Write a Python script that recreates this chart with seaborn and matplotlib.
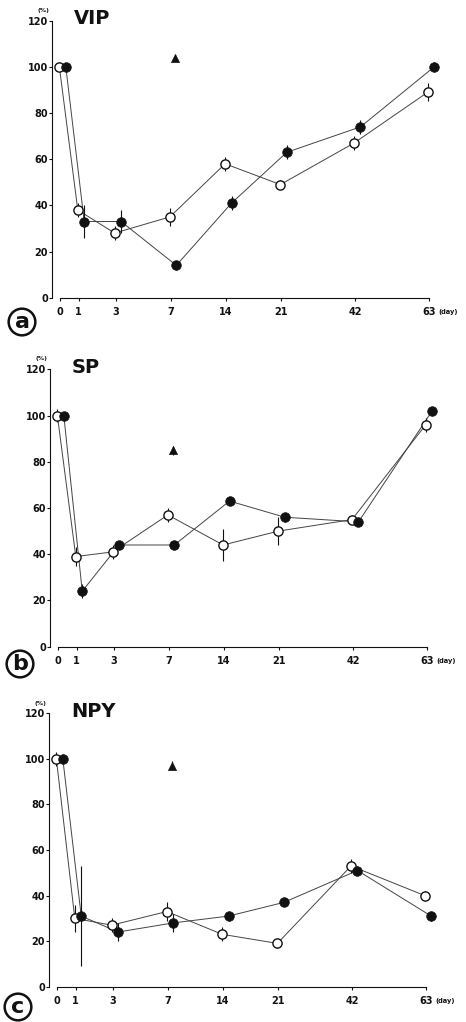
import matplotlib
matplotlib.use("Agg")
import matplotlib.pyplot as plt
import seaborn as sns
import pandas as pd

# ---------------- data ----------------
days = [0, 1, 3, 7, 14, 21, 42, 63]
day_labels = ["0", "1", "3", "7", "14", "21", "42", "63"]
y_ticks = [0, 20, 40, 60, 80, 100, 120]
panel_titles = ["VIP", "SP", "NPY"]
panel_letters = ["a", "b", "c"]

vip_open = [100, 38, 28, 35, 58, 49, 67, 89]
vip_open_err = [2, 3, 3, 4, 3, 2, 3, 4]
vip_filled = [100, 33, 33, 14, 41, 63, 74, 100]
vip_filled_err = [1, 7, 5, 2, 3, 3, 3, 2]
vip_tri = 104
vip_tri_err = 1

sp_open = [100, 39, 41, 57, 44, 50, 55, 96]
sp_open_err = [3, 4, 3, 3, 7, 6, 2, 3]
sp_filled = [100, 24, 44, 44, 63, 56, 54, 102]
sp_filled_err = [1, 3, 1, 1, 1, 2, 1, 1]
sp_tri = 85
sp_tri_err = 2

npy_open = [100, 30, 27, 33, 23, 19, 53, 40]
npy_open_err = [3, 6, 3, 4, 3, 2, 3, 2]
npy_filled = [100, 31, 24, 28, 31, 37, 51, 31]
npy_filled_err = [2, 22, 4, 4, 2, 1, 2, 2]
npy_tri = 97
npy_tri_err = 2

# compressed time-axis scale: day -> axis position
day_axis = {0: 0, 1: 1, 3: 3, 7: 6, 14: 9, 21: 12, 42: 16, 63: 20}

panels = [
    (vip_open, vip_open_err, vip_filled, vip_filled_err, vip_tri, vip_tri_err),
    (sp_open, sp_open_err, sp_filled, sp_filled_err, sp_tri, sp_tri_err),
    (npy_open, npy_open_err, npy_filled, npy_filled_err, npy_tri, npy_tri_err),
]

# ---------------- style ----------------
sns.set_style("ticks")
plt.rcParams["font.family"] = ["DejaVu Sans"]

W, H = 466, 1022
fig = plt.figure(figsize=(W / 100, H / 100), dpi=100)

# axes rectangles in pixels: (left, top(120), bottom(0))
ax_px = [(52, 20.7, 297.7), (50, 369.3, 646.7), (49, 713.3, 986.7)]
letter_px = [(22, 322), (20, 664), (18, 1007)]
ink = "#111111"

xmin, xmax = -0.45, 20.4

for i, (o, oe, f, fe, tri, trie) in enumerate(panels):
    left, top, bottom = ax_px[i]
    width_px = 384
    ax = fig.add_axes([left / W, 1 - bottom / H, width_px / W, (bottom - top) / H])

    xpos = [day_axis[d] for d in days]
    df = pd.concat([
        pd.DataFrame({"x": [p - 0.05 for p in xpos], "value": o, "err": oe, "series": "open"}),
        pd.DataFrame({"x": [p + 0.3 for p in xpos], "value": f, "err": fe, "series": "filled"}),
    ], ignore_index=True)

    for s in ["open", "filled"]:
        d = df[df.series == s]
        sns.lineplot(data=d, x="x", y="value", ax=ax, color="#444444", linewidth=0.7,
                     estimator=None, sort=False, legend=False, zorder=1)
        ax.errorbar(d["x"], d["value"], yerr=d["err"], fmt="none", ecolor=ink,
                    elinewidth=0.8, capsize=0, zorder=2, clip_on=False)

    d_open = df[df.series == "open"]
    d_fill = df[df.series == "filled"]
    sns.scatterplot(data=d_open, x="x", y="value", ax=ax, marker="o", s=44,
                    facecolor="white", edgecolor=ink, linewidth=1.0, zorder=4,
                    legend=False, clip_on=False)
    sns.scatterplot(data=d_fill, x="x", y="value", ax=ax, marker="o", s=48,
                    color=ink, edgecolor=ink, linewidth=0.5, zorder=5,
                    legend=False, clip_on=False)

    tri_df = pd.DataFrame({"x": [day_axis[7] + 0.25], "value": [tri], "err": [trie]})
    ax.errorbar(tri_df["x"], tri_df["value"], yerr=tri_df["err"], fmt="none",
                ecolor=ink, elinewidth=0.8, capsize=0, zorder=2)
    sns.scatterplot(data=tri_df, x="x", y="value", ax=ax, marker="^", s=34,
                    color=ink, edgecolor=ink, linewidth=0.5, zorder=5, legend=False)

    ax.set_xlim(xmin, xmax)
    ax.set_ylim(0, 120)
    ax.set_xticks([day_axis[d] for d in days])
    ax.set_xticklabels(day_labels)
    ax.set_yticks(y_ticks)
    ax.set_yticklabels([str(t) for t in y_ticks])
    ax.set_xlabel("")
    ax.set_ylabel("")
    for lab in ax.get_xticklabels() + ax.get_yticklabels():
        lab.set_fontweight("bold")
        lab.set_fontsize(7)
        lab.set_color(ink)
    ax.tick_params(axis="x", length=2, width=0.8, pad=5, colors=ink)
    ax.tick_params(axis="y", length=2, width=0.8, pad=1, colors=ink)
    ax.spines["top"].set_visible(False)
    ax.spines["right"].set_visible(False)
    ax.spines["left"].set_linewidth(0.8)
    ax.spines["bottom"].set_linewidth(0.8)
    ax.spines["left"].set_color(ink)
    ax.spines["bottom"].set_color(ink)
    ax.spines["bottom"].set_bounds(0, 20)
    ax.set_facecolor("white")

    ax.text(-0.9, 124.5, "(%)", fontsize=4.5, fontweight="bold", ha="center",
            va="center", color=ink, clip_on=False)
    ax.text(0.75, 120.8, panel_titles[i], fontsize=14, fontweight="bold",
            ha="left", va="center", color=ink, clip_on=False)
    ax.annotate("(day)", xy=(20, 0), xycoords=("data", "axes fraction"),
                xytext=(10, -14), textcoords="offset pixels", fontsize=4.8,
                fontweight="bold", ha="left", va="center", color=ink,
                annotation_clip=False)

    lx, ly = letter_px[i]
    fig.text(lx / W, 1 - ly / H, panel_letters[i], fontsize=16, fontweight="bold",
             ha="center", va="center", color=ink,
             bbox=dict(boxstyle="circle,pad=0.15", fc="white", ec=ink, lw=1.8))

fig.savefig("out.png", dpi=100, facecolor="white")
